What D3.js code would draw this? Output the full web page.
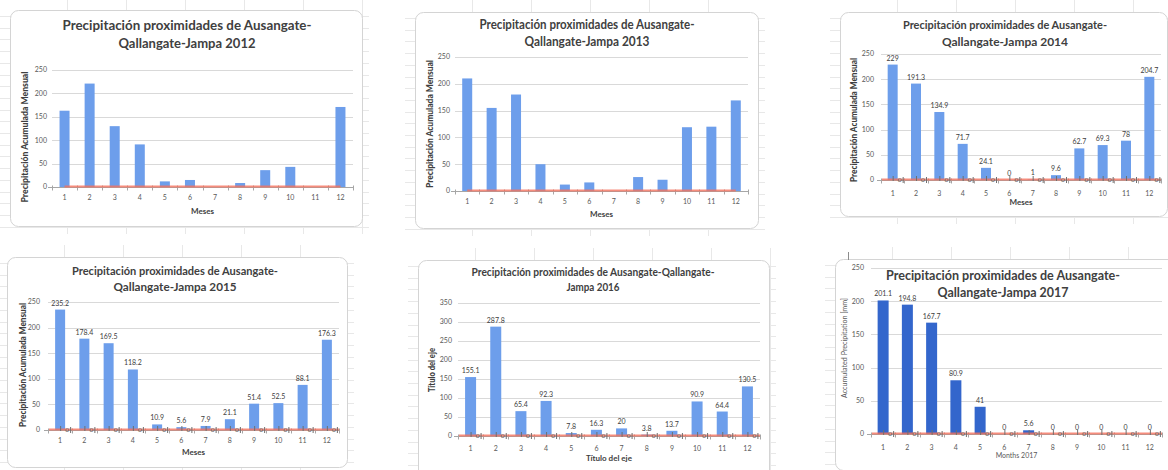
<!DOCTYPE html>
<html>
<head>
<meta charset="utf-8">
<script src="https://cdn.jsdelivr.net/npm/d3@7"></script>
<style>
  body { margin: 0; background: #fff; }
  svg { display: block; font-family: Lato, "Open Sans", sans-serif; }
</style>
</head>
<body>
<svg id="chart" width="1168" height="470"></svg>
<script>
// Monthly accumulated precipitation (mm), Ausangate-Qallangate-Jampa
const months = ["1", "2", "3", "4", "5", "6", "7", "8", "9", "10", "11", "12"];
const precip2012 = [163, 221, 130, 91, 12, 15, 0, 8.5, 36, 43, 0, 171];
const precip2013 = [210, 155, 180, 50, 12, 16, 0, 26, 21, 119, 120, 169];
const precip2014 = [229, 191.3, 134.9, 71.7, 24.1, 0, 1, 9.6, 62.7, 69.3, 78, 204.7];
const precip2015 = [235.2, 178.4, 169.5, 118.2, 10.9, 5.6, 7.9, 21.1, 51.4, 52.5, 88.1, 176.3];
const precip2016 = [155.1, 287.8, 65.4, 92.3, 7.8, 16.3, 20, 3.8, 13.7, 90.9, 64.4, 130.5];
const precip2017 = [201.1, 194.8, 167.7, 80.9, 41, 0, 5.6, 0, 0, 0, 0, 0];
// reference series drawn as the flat red line
const baseline = [0, 0, 0, 0, 0, 0, 0, 0, 0, 0, 0, 0];
const ticks250 = [0, 50, 100, 150, 200, 250];
const ticks350 = [0, 50, 100, 150, 200, 250, 300, 350];

const titleLine1 = "Precipitación proximidades de Ausangate-";
const titleLine2 = "Qallangate-Jampa ";

// layout of each small chart on the sheet
const panels = [
  { values: precip2012, ticks: ticks250,
    card: [10, 10, 352, 216],
    title: [titleLine1, titleLine2 + "2012"], tcx: 187, ty: [30, 48], tw: [249, 137], tsize: 14,
    px: [52, 353], py: [187, 70], tickX: 47, xLabY: 200, barW: 10,
    xTitle: "Meses", xTitleY: 214, yTitle: "Precipitación Acumulada Mensual", yTitleX: 25, yTitleCy: 137, yTitleW: 131,
    color: "#6d9eeb", labels: false, zeros: false, lineSpan: "centers", axisBold: true },
  { values: precip2013, ticks: ticks250,
    card: [415, 12, 343, 216],
    title: [titleLine1, titleLine2 + "2013"], tcx: 587, ty: [29, 46], tw: [215, 125], tsize: 12.5,
    px: [455, 748], py: [191, 57], tickX: 450, xLabY: 204, barW: 10,
    xTitle: "Meses", xTitleY: 217, yTitle: "Precipitación Acumulada Mensual", yTitleX: 430, yTitleCy: 124, yTitleW: 128,
    color: "#6d9eeb", labels: false, zeros: false, lineSpan: "centers", axisBold: true },
  { values: precip2014, ticks: ticks250,
    card: [840, 12, 327, 204],
    title: [titleLine1, titleLine2 + "2014"], tcx: 1005, ty: [29, 46], tw: [204, 126], tsize: 12,
    px: [881, 1161], py: [180, 54], tickX: 874, xLabY: 196, barW: 10,
    xTitle: "Meses", xTitleY: 205, yTitle: "Precipitación Acumulada Mensual", yTitleX: 854, yTitleCy: 120, yTitleW: 124,
    color: "#6d9eeb", labels: true, zeros: true, lineSpan: "full", axisBold: true },
  { values: precip2015, ticks: ticks250,
    card: [7, 257, 340, 210],
    title: [titleLine1, titleLine2 + "2015"], tcx: 175, ty: [275, 291], tw: [206, 123], tsize: 12,
    px: [48, 339], py: [430, 302], tickX: 40, xLabY: 443, barW: 10,
    xTitle: "Meses", xTitleY: 455, yTitle: "Precipitación Acumulada Mensual", yTitleX: 23, yTitleCy: 365, yTitleW: 124,
    color: "#6d9eeb", labels: true, zeros: true, lineSpan: "full", axisBold: true },
  { values: precip2016, ticks: ticks350,
    card: [418, 260, 351, 225],
    title: ["Precipitación proximidades de Ausangate-Qallangate-", "Jampa 2016"], tcx: 593, ty: [276, 291], tw: [243, 53], tsize: 11,
    px: [458, 760], py: [436, 303], tickX: 452, xLabY: 451, barW: 11,
    xTitle: "Título del eje", xTitleY: 461, yTitle: "Título del eje", yTitleX: 432, yTitleCy: 370, yTitleW: 44,
    color: "#6d9eeb", labels: true, zeros: true, lineSpan: "full", axisBold: true },
  { values: precip2017, ticks: ticks250,
    card: [835, 259, 345, 211],
    title: [titleLine1, titleLine2 + "2017"], tcx: 1003, ty: [280, 297], tw: [234, 131], tsize: 13,
    px: [871, 1162], py: [434, 268], tickX: 864, xLabY: 450, barW: 11,
    xTitle: "Months 2017", xTitleY: 458, yTitle: "Accumulated Precipitation [mm]", yTitleX: 845, yTitleCy: 348, yTitleW: 100,
    color: "#3366cc", labels: true, zeros: true, lineSpan: "full", axisBold: false }
];

const svg = d3.select("#chart");
const sheetColor = "#e8e8e8";
const textGray = "#595959";
const titleGray = "#404040";

// faint spreadsheet cell lines behind each chart
panels.forEach(p => {
  const [cx, cy, cw, ch] = p.card;
  const sx0 = Math.max(0, cx - 10), sx1 = Math.min(1168, cx + cw + 7);
  const sy0 = Math.max(0, cy - 12), sy1 = Math.min(470, cy + ch + 8);
  const g = svg.append("g");
  const cols = d3.range(cx + 57, sx1, 59);
  const rows = d3.range(cy + 6, sy1, 11.7);
  g.selectAll(".v").data(cols).join("line")
    .attr("x1", d => Math.round(d) + 0.5).attr("x2", d => Math.round(d) + 0.5)
    .attr("y1", sy0).attr("y2", sy1)
    .attr("stroke", sheetColor).attr("stroke-width", 1);
  g.selectAll(".h").data(rows).join("line")
    .attr("x1", sx0).attr("x2", sx1)
    .attr("y1", d => Math.round(d) + 0.5).attr("y2", d => Math.round(d) + 0.5)
    .attr("stroke", sheetColor).attr("stroke-width", 1);
});

function fit(sel, w) {
  sel.attr("textLength", w).attr("lengthAdjust", "spacingAndGlyphs");
}

panels.forEach(p => {
  const [cx, cy, cw, ch] = p.card;
  const g = svg.append("g");

  // chart area card
  g.append("rect")
    .attr("x", cx + 0.5).attr("y", cy + 0.5).attr("width", cw).attr("height", ch)
    .attr("rx", 8).attr("ry", 8)
    .attr("fill", "#fff").attr("stroke", "#d4d4d4").attr("stroke-width", 1);

  const x = d3.scaleBand().domain(months).range(p.px).paddingInner(0).paddingOuter(0);
  const yMax = p.ticks[p.ticks.length - 1];
  const y = d3.scaleLinear().domain([0, yMax]).range(p.py);

  // horizontal gridlines
  g.selectAll(".grid").data(p.ticks.filter(t => t > 0)).join("line")
    .attr("x1", p.px[0]).attr("x2", p.px[1])
    .attr("y1", d => Math.round(y(d)) + 0.5).attr("y2", d => Math.round(y(d)) + 0.5)
    .attr("stroke", "#d9d9d9").attr("stroke-width", 1);

  // y tick labels
  g.selectAll(".ytl").data(p.ticks).join("text")
    .attr("x", p.tickX).attr("y", d => y(d)).attr("dy", "0.35em")
    .attr("text-anchor", "end").attr("font-size", 7).attr("fill", textGray)
    .text(d => d);

  // bars
  g.selectAll(".bar").data(p.values).join("rect")
    .attr("x", (d, i) => x(months[i]) + x.bandwidth() / 2 - p.barW / 2)
    .attr("width", p.barW)
    .attr("y", d => y(d))
    .attr("height", d => y(0) - y(d))
    .attr("fill", p.color);

  // x axis line with ticks at category boundaries
  const y0 = Math.round(y(0)) + 0.5;
  g.append("line").attr("x1", p.px[0] - 4).attr("x2", p.px[1])
    .attr("y1", y0).attr("y2", y0).attr("stroke", "#a6a6a6").attr("stroke-width", 1);
  const bounds = months.map(m => x(m)).concat([p.px[1]]);
  g.selectAll(".xt").data(bounds).join("line")
    .attr("x1", d => Math.round(d) + 0.5).attr("x2", d => Math.round(d) + 0.5)
    .attr("y1", y0 - 2).attr("y2", y0 + 3)
    .attr("stroke", "#a6a6a6").attr("stroke-width", 1);

  // red reference line
  const line = d3.line()
    .x((d, i) => {
      if (p.lineSpan === "full") {
        if (i === 0) return p.px[0] + 1;
        if (i === baseline.length - 1) return p.px[1];
      }
      return x(months[i]) + x.bandwidth() / 2;
    })
    .y(d => y(d) - 0.5);
  g.append("path").datum(baseline)
    .attr("d", line).attr("fill", "none")
    .attr("stroke", "#f4705c").attr("stroke-opacity", 0.8).attr("stroke-width", 1.8);

  // zero series markers: small tick and "0|" label on the line
  if (p.zeros) {
    const zg = g.append("g");
    baseline.forEach((v, i) => {
      const c = x(months[i]) + x.bandwidth() / 2;
      zg.append("line").attr("x1", c + 0.5).attr("x2", c + 0.5)
        .attr("y1", y(v) - 4).attr("y2", y(v) + 1)
        .attr("stroke", "#6f6f6f").attr("stroke-width", 1);
      zg.append("text").attr("x", c + 7).attr("y", y(v)).attr("dy", "0.35em")
        .attr("text-anchor", "middle").attr("font-size", 6.5).attr("fill", textGray)
        .text(v);
      zg.append("line").attr("x1", c + 10.5).attr("x2", c + 10.5)
        .attr("y1", y(v) - 3).attr("y2", y(v) + 3)
        .attr("stroke", "#6f6f6f").attr("stroke-width", 1);
    });
  }

  // month labels
  g.selectAll(".xl").data(months).join("text")
    .attr("x", d => x(d) + x.bandwidth() / 2).attr("y", p.xLabY)
    .attr("text-anchor", "middle").attr("font-size", 7).attr("fill", textGray)
    .text(d => d);

  // value labels
  if (p.labels) {
    g.selectAll(".vl").data(p.values).join("text")
      .attr("x", (d, i) => x(months[i]) + x.bandwidth() / 2)
      .attr("y", d => y(d) - 4)
      .attr("text-anchor", "middle").attr("font-size", 7).attr("fill", titleGray)
      .text(d => d);
  }

  // axis titles
  g.append("text").attr("x", (p.px[0] + p.px[1]) / 2).attr("y", p.xTitleY)
    .attr("text-anchor", "middle").attr("font-size", p.axisBold ? 8 : 7)
    .attr("font-weight", p.axisBold ? "bold" : "normal").attr("fill", p.axisBold ? titleGray : textGray)
    .text(p.xTitle);
  g.append("text")
    .attr("transform", `translate(${p.yTitleX},${p.yTitleCy}) rotate(-90)`)
    .attr("text-anchor", "middle").attr("dy", "0.35em")
    .attr("font-size", p.axisBold ? 8.5 : 7)
    .attr("font-weight", p.axisBold ? "900" : "normal").attr("fill", p.axisBold ? titleGray : textGray)
    .text(p.yTitle)
    .call(fit, p.yTitleW);

  // two-line chart title
  p.title.forEach((t, k) => {
    g.append("text").attr("x", p.tcx).attr("y", p.ty[k])
      .attr("text-anchor", "middle").attr("font-size", p.tsize)
      .attr("font-weight", "bold").attr("fill", titleGray)
      .text(t)
      .call(fit, p.tw[k]);
  });
});

// stray cell border mark above the 2017 chart
svg.append("line").attr("x1", 848.5).attr("x2", 848.5).attr("y1", 252).attr("y2", 260)
  .attr("stroke", "#8c8c8c").attr("stroke-width", 1);
</script>
</body>
</html>
